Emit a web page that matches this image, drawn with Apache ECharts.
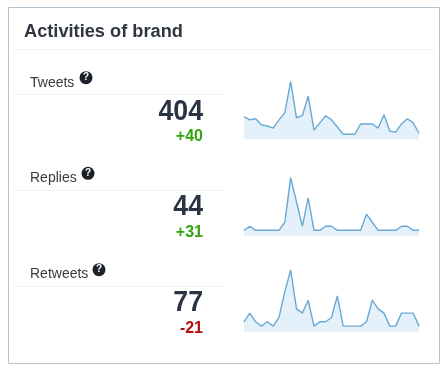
<!DOCTYPE html>
<html>
<head>
<meta charset="utf-8">
<style>
  html, body { margin: 0; padding: 0; background: #fff; }
  #main { width: 448px; height: 372px; }
</style>
<script src="https://cdn.jsdelivr.net/npm/echarts@6/dist/echarts.min.js"></script>
</head>
<body>
<div id="main"></div>
<script>
const days = Array.from({ length: 31 }, (_, i) => String(i + 1));

const tweets = [18, 15, 16, 10, 9, 7, 15, 22, 52, 17, 19, 38, 5, 12, 19, 15, 8, 1, 1, 1, 11, 11, 11, 7, 20, 4, 3, 11, 16, 12, 2];
const replies = [0, 1, 0, 0, 0, 0, 0, 2, 13, 7, 1, 8, 0, 0, 1, 1, 0, 0, 0, 0, 0, 4, 2, 0, 0, 0, 0, 1, 1, 0, 0];
const retweets = [1, 3, 1, 0, 1, 0, 2, 8, 13, 4, 3, 6, 0, 1, 1, 2, 7, 0, 0, 0, 0, 1, 6, 4, 3, 0, 0, 3, 3, 3, 0];

const panelNames = ['Tweets', 'Replies', 'Retweets'];
const panelTotals = ['404', '44', '77'];
const panelDiffs = ['+40', '+31', '-21'];
const panelData = [tweets, replies, retweets];

const chartTitle = 'Activities of brand';

const font = '"Liberation Sans", Arial, sans-serif';
const green = '#33a30f';
const red = '#b40d0d';

// layout of each row: y of label, rule, total, diff and the sparkline grid
const rows = [
  { label: 83.5, helpX: 86, helpY: 77.7, rule: 94, total: 111.5, diff: 136.5, top: 81.7, height: 57.6, min: -3.9, max: 52 },
  { label: 178.5, helpX: 88, helpY: 173.3, rule: 190, total: 206.8, diff: 232.8, top: 177.7, height: 58, min: -1.33, max: 13 },
  { label: 274.5, helpX: 99, helpY: 269.7, rule: 286, total: 302.5, diff: 328.7, top: 270, height: 61.7, min: -1.3, max: 13 },
];

const graphic = [
  { type: 'rect', shape: { x: 8.5, y: 7.5, width: 431, height: 356 }, style: { fill: '#fff', stroke: '#b4c6d0', lineWidth: 1 } },
  { type: 'line', shape: { x1: 14, y1: 49.5, x2: 434, y2: 49.5 }, style: { stroke: '#f1f1f1', lineWidth: 1 } },
  { type: 'text', x: 24, y: 32.5, scaleX: 1.012, style: { text: chartTitle, font: 'bold 18px ' + font, fill: '#2f3640', textVerticalAlign: 'middle' } },
];

rows.forEach((r, i) => {
  graphic.push(
    { type: 'text', x: 30, y: r.label, style: { text: panelNames[i], font: '14px ' + font, fill: '#3a3a3a', textVerticalAlign: 'middle' } },
    { type: 'circle', shape: { cx: r.helpX, cy: r.helpY, r: 6.5 }, style: { fill: '#1c2229' } },
    { type: 'text', x: r.helpX, y: r.helpY, style: { text: '?', font: 'bold 10px ' + font, fill: '#fff', textAlign: 'center', textVerticalAlign: 'middle' } },
    { type: 'line', shape: { x1: 14, y1: r.rule + 0.5, x2: 224, y2: r.rule + 0.5 }, style: { stroke: '#f1f1f1', lineWidth: 1 } },
    { type: 'text', x: 203, y: r.total, scaleX: 0.89, style: { text: panelTotals[i], font: 'bold 30px ' + font, fill: '#2b3442', textAlign: 'right', textVerticalAlign: 'middle' } },
    { type: 'text', x: 203, y: r.diff, style: { text: panelDiffs[i], font: 'bold 16px ' + font, fill: panelDiffs[i][0] === '+' ? green : red, textAlign: 'right', textVerticalAlign: 'middle' } }
  );
});

const myChart = echarts.init(document.getElementById('main'), null, { renderer: 'canvas' });

myChart.setOption({
  animation: false,
  graphic: { elements: graphic },
  grid: rows.map((r) => ({ left: 244, width: 175, top: r.top, height: r.height })),
  xAxis: rows.map((r, i) => ({ type: 'category', gridIndex: i, data: days, boundaryGap: false, show: false })),
  yAxis: rows.map((r, i) => ({ type: 'value', gridIndex: i, min: r.min, max: r.max, show: false })),
  series: panelData.map((d, i) => ({
    type: 'line',
    xAxisIndex: i,
    yAxisIndex: i,
    data: d,
    symbol: 'none',
    silent: true,
    lineStyle: { color: '#6aa9d3', width: 1.4 },
    areaStyle: { color: '#e4f1fa', origin: 'start', opacity: 1 },
  })),
});
</script>
</body>
</html>
